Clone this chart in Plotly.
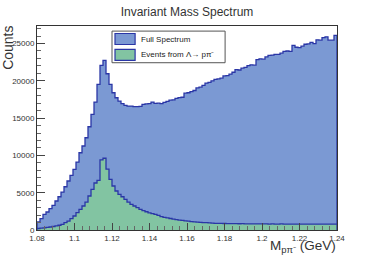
import plotly.graph_objects as go

# Histogram definition: 100 bins from 1.08 to 1.24 GeV
x_min = 1.08
x_max = 1.24
n_bins = 100

full_counts = [
    1070, 1520, 2100, 2410, 2860, 3300, 3890, 4460, 5090, 5800,
    6570, 7320, 8130, 9110, 10360, 11260, 12370, 13840, 15500, 17150,
    19530, 22070, 22740, 20950, 19530, 18400, 17730, 17290, 16930, 16710,
    16620, 16620, 16530, 16530, 16580, 16840, 16900, 16950, 17150, 16980,
    17000, 16950, 17100, 17250, 17400, 17450, 17650, 17750, 17800, 18350,
    18400, 18550, 18700, 19050, 19150, 19400, 19700, 19800, 20000, 20200,
    20250, 20350, 20650, 20700, 20900, 21150, 21500, 21450, 21700, 21800,
    22050, 22150, 22100, 22850, 22950, 22900, 23200, 23400, 23450, 23550,
    23550, 23700, 23950, 24000, 23950, 24750, 24500, 24450, 24650, 24900,
    24950, 25150, 25000, 25500, 25450, 25800, 25900, 25450, 25450, 26100,
]

lambda_counts = [
    200, 240, 290, 340, 400, 470, 540, 640, 760, 980,
    1200, 1520, 1880, 2320, 2770, 3220, 3750, 4560, 5450, 6300,
    6650, 9400, 9620, 8150, 6800, 5900, 5230, 4780, 4460, 4110,
    3750, 3440, 3220, 3000, 2770, 2600, 2450, 2300, 2200, 2100,
    1950, 1800, 1700, 1620, 1540, 1450, 1400, 1330, 1280, 1230,
    1180, 1130, 1100, 1060, 1030, 1000, 980, 950, 920, 900,
    890, 880, 870, 860, 860, 850, 850, 840, 850, 830,
    830, 820, 830, 820, 810, 820, 810, 800, 810, 800,
    800, 810, 800, 790, 800, 800, 790, 800, 790, 800,
    790, 800, 790, 780, 790, 800, 790, 780, 790, 800,
]

y_tick_vals = [0, 5000, 10000, 15000, 20000, 25000]
x_tick_vals = [1.08, 1.10, 1.12, 1.14, 1.16, 1.18, 1.20, 1.22, 1.24]

legend_labels = ["Full Spectrum", "Events from \u039b\u2192 p\u03c0\u207b"]

bin_w = (x_max - x_min) / n_bins
edges = [x_min + i * bin_w for i in range(n_bins + 1)]

def step_xy(vals):
    xs = [edges[0]] + edges
    ys = [0] + list(vals) + [vals[-1]]
    xs = xs + [edges[-1]]
    ys = ys + [0]
    return xs, ys

LINE = "#2a36a6"
BLUE = "#7b99d3"
GREEN = "#82c4a2"
TXT = "#333333"

fig = go.Figure()
fx, fy = step_xy(full_counts)
fig.add_trace(go.Scatter(x=fx, y=fy, mode="lines", line=dict(shape="hv", color=LINE, width=1.3),
                         fill="tozeroy", fillcolor=BLUE, showlegend=False, hoverinfo="skip"))
gx, gy = step_xy(lambda_counts)
fig.add_trace(go.Scatter(x=gx, y=gy, mode="lines", line=dict(shape="hv", color=LINE, width=1.3),
                         fill="tozeroy", fillcolor=GREEN, showlegend=False, hoverinfo="skip"))

fig.update_layout(
    width=374, height=255,
    margin=dict(l=37, r=37, t=26, b=25),
    paper_bgcolor="white", plot_bgcolor="white",
    font=dict(family="Liberation Sans, Arial, sans-serif", color=TXT, size=8),
    title=dict(text="Invariant Mass Spectrum", x=0.5, xanchor="center", y=0.953, yanchor="middle",
               font=dict(size=12, color=TXT)),
    showlegend=False,
)
fig.update_xaxes(range=[x_min, x_max], tickvals=x_tick_vals, ticks="inside", ticklen=7,
                 tickcolor="#444", showline=True, linecolor="#333", linewidth=1, mirror=True,
                 showgrid=False, zeroline=False, tickfont=dict(size=8, color=TXT),
                 minor=dict(ticks="inside", ticklen=4, dtick=0.004, tickcolor="#666"))
fig.update_yaxes(range=[0, 27350], tickvals=y_tick_vals, tickformat="d", ticks="inside", ticklen=8,
                 tickcolor="#444", showline=True, linecolor="#333", linewidth=1, mirror=True,
                 showgrid=False, zeroline=False, tickfont=dict(size=8, color=TXT),
                 minor=dict(ticks="inside", ticklen=4, dtick=1000, tickcolor="#666"))

# axis titles (ROOT style, at axis ends)
fig.add_annotation(text="M<sub>p\u03c0\u207b</sub> (GeV)", xref="paper", yref="paper",
                   x=1.0, y=-0.036, xanchor="right", yanchor="top", showarrow=False,
                   borderpad=0, font=dict(size=13.5, color=TXT))
fig.add_annotation(text="Counts", xref="paper", yref="paper", textangle=-90,
                   x=-0.097, y=1.01, xanchor="center", yanchor="top", showarrow=False,
                   font=dict(size=14, color=TXT))

# legend box (manual, ROOT TLegend style)
lx0, lx1, ly0, ly1 = 0.25, 0.627, 0.82, 0.975
fig.add_shape(type="rect", xref="paper", yref="paper", x0=lx0, x1=lx1, y0=ly0, y1=ly1,
              line=dict(color="#555", width=1), fillcolor="white")
for i, (lab, col) in enumerate(zip(legend_labels, [BLUE, GREEN])):
    yc = ly1 - (i + 0.5) * (ly1 - ly0) / 2
    fig.add_shape(type="rect", xref="paper", yref="paper", x0=lx0 + 0.01, x1=lx0 + 0.077,
                  y0=yc - 0.027, y1=yc + 0.027, line=dict(color=LINE, width=1.2), fillcolor=col)
    fig.add_annotation(text=lab, xref="paper", yref="paper", x=lx0 + 0.09, y=yc,
                       xanchor="left", yanchor="middle", showarrow=False,
                       font=dict(size=8, color="#222"))

fig.write_html("out.html", config={"displayModeBar": False},
               post_script="document.body.style.margin='0';document.body.style.padding='0';")
